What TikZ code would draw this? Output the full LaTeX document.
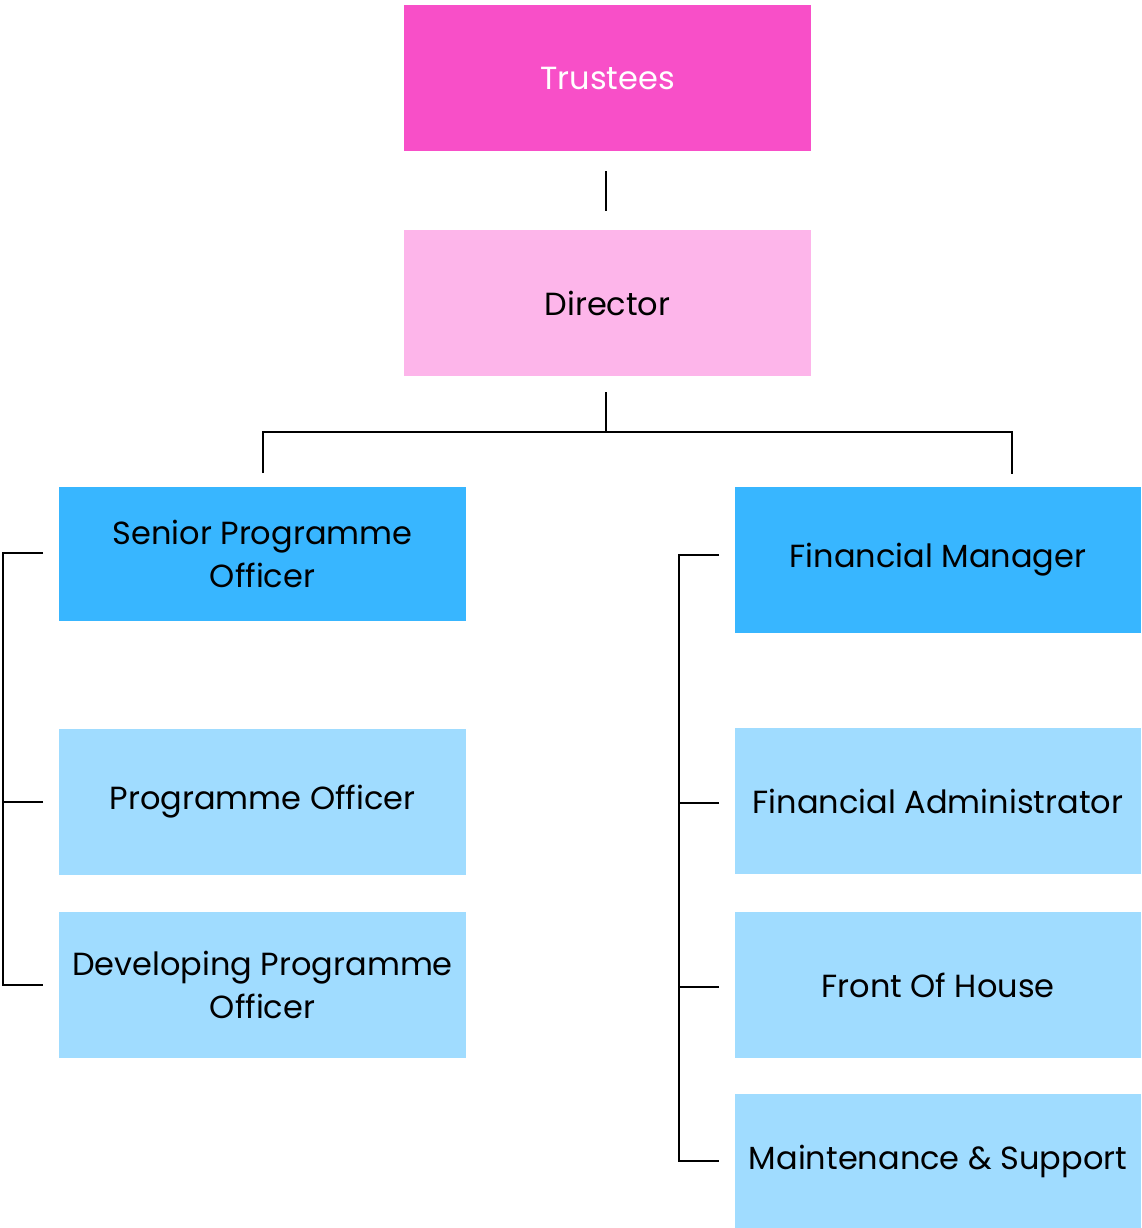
\documentclass[tikz,border=0pt]{standalone}
\usepackage{fontspec}
\setmainfont{Poppins}
\definecolor{trust}{HTML}{F84FC8}
\definecolor{dirc}{HTML}{FDB5EA}
\definecolor{darkblue}{HTML}{38B6FF}
\definecolor{lightblue}{HTML}{A0DCFF}
\tikzset{
  box/.style={rectangle, inner sep=0pt, outer sep=0pt, align=center, font=\fontsize{32}{43}\selectfont},
  conn/.style={draw=black, line width=1.6pt},
}
\begin{document}
\begin{tikzpicture}[x=1pt,y=-1pt]
\useasboundingbox (0,0) rectangle (1141,1228);
% boxes
\node[box, fill=trust, text=white, minimum width=407pt, minimum height=146pt] (trustees) at (607.5,78) {Trustees};
\node[box, fill=dirc, minimum width=407pt, minimum height=146pt] (director) at (607.5,303) {Director};
\node[box, fill=darkblue, minimum width=407pt, minimum height=134pt] (spo) at (262.5,554) {Senior Programme\\Officer};
\node[box, fill=darkblue, minimum width=406pt, minimum height=146pt] (fm) at (938,560) {Financial Manager};
\node[box, fill=lightblue, minimum width=407pt, minimum height=146pt] (po) at (262.5,802) {Programme Officer};
\node[box, fill=lightblue, minimum width=407pt, minimum height=146pt] (dpo) at (262.5,985) {Developing Programme\\Officer};
\node[box, fill=lightblue, minimum width=406pt, minimum height=146pt] (fa) at (938,801) {Financial Administrator};
\node[box, fill=lightblue, minimum width=406pt, minimum height=146pt] (foh) at (938,985) {Front Of House};
\node[box, fill=lightblue, minimum width=406pt, minimum height=134pt] (ms) at (938,1161) {Maintenance \& Support};
% connector coordinates
\coordinate (t1) at (606,171);
\coordinate (t2) at (606,211);
\coordinate (d1) at (606,392);
\coordinate (d2) at (606,432);
\coordinate (hl) at (263,432);
\coordinate (hr) at (1012,432);
\coordinate (vl) at (263,473);
\coordinate (vr) at (1012,474);
% left bracket
\coordinate (lspo) at (43,553);
\coordinate (lpo) at (43,802);
\coordinate (ldpo) at (43,985);
% right bracket
\coordinate (rfm) at (719,555);
\coordinate (rfa) at (719,803);
\coordinate (rfoh) at (719,987);
\coordinate (rms) at (719,1161);
% draw
\draw[conn] (t1) -- (t2);
\draw[conn] (d1) -- (d2);
\draw[conn] (vl) -- (hl) -- (hr) -- (vr);
\draw[conn] (lspo) -- (3,553) -- (3,985) -- (ldpo);
\draw[conn] (lpo) -- (3,802);
\draw[conn] (rfm) -- (679,555) -- (679,1161) -- (rms);
\draw[conn] (rfa) -- (679,803);
\draw[conn] (rfoh) -- (679,987);
\end{tikzpicture}
\end{document}
